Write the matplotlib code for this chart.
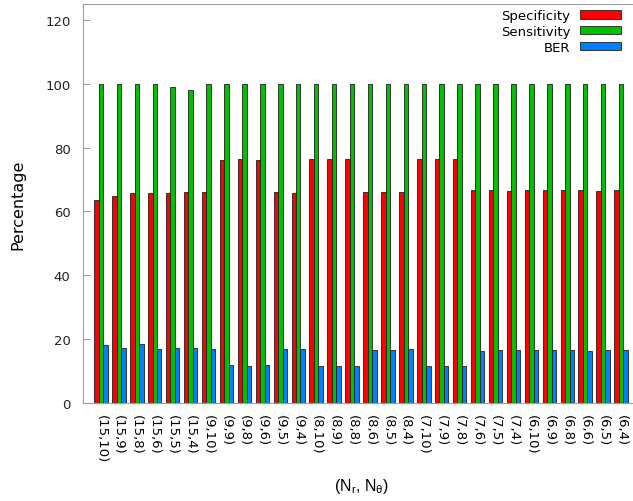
import numpy as np
import matplotlib
matplotlib.use("Agg")
import matplotlib.pyplot as plt

plt.rcParams["mathtext.default"] = "regular"

# (Nr, Ntheta) configurations
configs = ["(15,10)", "(15,9)", "(15,8)", "(15,6)", "(15,5)", "(15,4)",
           "(9,10)", "(9,9)", "(9,8)", "(9,6)", "(9,5)", "(9,4)",
           "(8,10)", "(8,9)", "(8,8)", "(8,6)", "(8,5)", "(8,4)",
           "(7,10)", "(7,9)", "(7,8)", "(7,6)", "(7,5)", "(7,4)",
           "(6,10)", "(6,9)", "(6,8)", "(6,6)", "(6,5)", "(6,4)"]

specificity = [63.5, 65.0, 65.7, 65.8, 65.7, 66.2,
               66.0, 76.1, 76.3, 76.1, 66.0, 65.7,
               76.3, 76.3, 76.3, 66.2, 66.2, 66.0,
               76.5, 76.5, 76.5, 66.6, 66.6, 66.4,
               66.8, 66.8, 66.8, 66.8, 66.4, 66.6]
sensitivity = [100, 100, 100, 100, 99.0, 98.0,
               100, 100, 100, 100, 100, 100,
               100, 100, 100, 100, 100, 100,
               100, 100, 100, 100, 100, 100,
               100, 100, 100, 100, 100, 100]
ber = [18.1, 17.1, 18.5, 16.8, 17.1, 17.1,
       16.8, 11.8, 11.5, 11.8, 16.8, 16.8,
       11.6, 11.6, 11.6, 16.6, 16.6, 16.8,
       11.6, 11.6, 11.6, 16.2, 16.5, 16.6,
       16.5, 16.5, 16.5, 16.2, 16.6, 16.5]

fig = plt.figure(figsize=(6.33, 5.02), dpi=100)
ax = fig.add_axes([83/633, 98/502, 556/633, 399/502])

x = np.arange(len(configs))
w = 0.25
ax.bar(x - w, specificity, w, color="#ff0000", edgecolor="#202020", linewidth=0.6, label="Specificity")
ax.bar(x, sensitivity, w, color="#00c000", edgecolor="#202020", linewidth=0.6, label="Sensitivity")
ax.bar(x + w, ber, w, color="#0080ff", edgecolor="#202020", linewidth=0.6, label="BER")

ax.set_xlim(-1, 30)
ax.set_ylim(0, 125)
ax.set_yticks(range(0, 121, 20))
ax.set_xticks(x)
ax.set_xticklabels(configs, rotation=-90, fontsize=9.5, va="top", ha="center")
ax.tick_params(axis="x", length=0, pad=8)
ax.tick_params(axis="y", direction="in", length=5, pad=9, labelsize=9.5, color="#a0a0a0", labelcolor="#222222")

for s in ["left", "top", "bottom"]:
    ax.spines[s].set_color("#a0a0a0")
ax.spines["right"].set_visible(False)

ax.set_ylabel("Percentage", fontsize=11.5, labelpad=14)
ax.set_xlabel(r"(N$_r$, N$_\theta$)", fontsize=11.5, labelpad=10, family="Liberation Sans")

ax.legend(loc="upper right", bbox_to_anchor=(621/633, 1 - 10/502), bbox_transform=fig.transFigure,
          frameon=False, markerfirst=False, fontsize=9.5, handlelength=3.1, handleheight=0.6,
          handletextpad=0.75, labelspacing=0.22, borderpad=0, borderaxespad=0)

fig.savefig("out.png", dpi=100)
